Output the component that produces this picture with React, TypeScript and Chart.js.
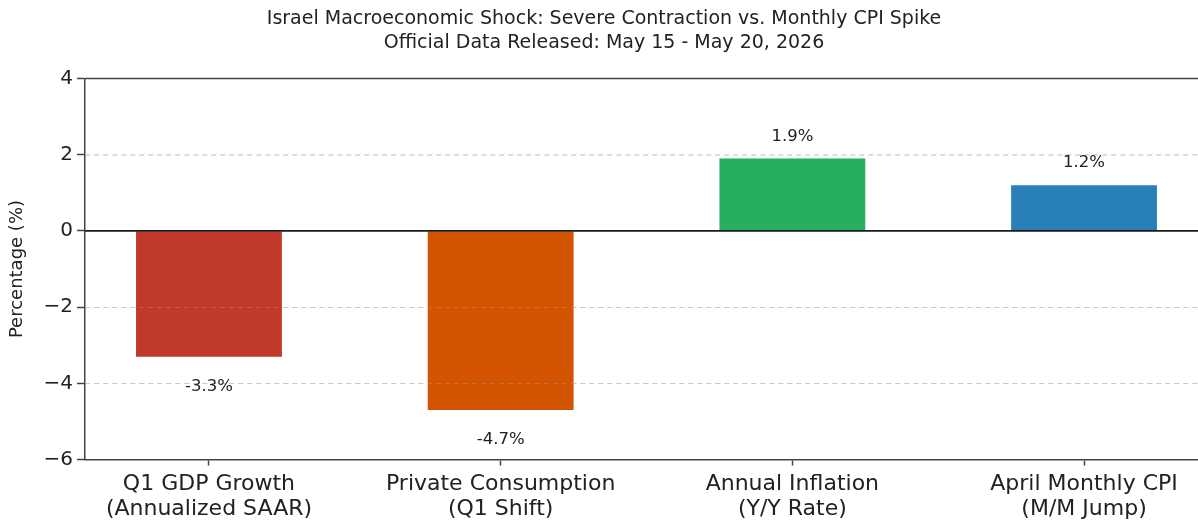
import React, { useEffect, useRef } from "react";
import { Chart, registerables } from "chart.js";

Chart.register(...registerables);

const titleLines = [
  "Israel Macroeconomic Shock: Severe Contraction vs. Monthly CPI Spike",
  "Official Data Released: May 15 - May 20, 2026",
];
const categories = [
  ["Q1 GDP Growth", "(Annualized SAAR)"],
  ["Private Consumption", "(Q1 Shift)"],
  ["Annual Inflation", "(Y/Y Rate)"],
  ["April Monthly CPI", "(M/M Jump)"],
];
const values = [-3.3, -4.7, 1.9, 1.2];
const valueLabels = ["-3.3%", "-4.7%", "1.9%", "1.2%"];
const barColors = ["#c0392b", "#d35400", "#27ae60", "#2980b9"];
const yTicks = [-6, -4, -2, 0, 2, 4];
const yAxisTitle = "Percentage (%)";

const FONT = "'DejaVu Sans'";

const overlayPlugin = {
  id: "overlay",
  afterDatasetsDraw(chart: any) {
    const { ctx, chartArea, scales } = chart;
    const y = scales.y;
    ctx.save();
    // faint grid over bars (matplotlib-like grid drawn above)
    ctx.strokeStyle = "rgba(170,170,170,0.35)";
    ctx.lineWidth = 1;
    ctx.setLineDash([5, 4]);
    yTicks.forEach((t) => {
      if (t === 0 || t === yTicks[0] || t === yTicks[yTicks.length - 1]) return;
      const py = Math.round(y.getPixelForValue(t)) + 0.5;
      ctx.beginPath();
      ctx.moveTo(chartArea.left, py);
      ctx.lineTo(chartArea.right, py);
      ctx.stroke();
    });
    ctx.setLineDash([]);
    // zero line
    const zy = y.getPixelForValue(0);
    ctx.strokeStyle = "#1a1a1a";
    ctx.lineWidth = 1.8;
    ctx.beginPath();
    ctx.moveTo(chartArea.left, zy);
    ctx.lineTo(chartArea.right, zy);
    ctx.stroke();
    // top and right frame
    ctx.strokeStyle = "#444";
    ctx.lineWidth = 1.5;
    ctx.beginPath();
    ctx.moveTo(chartArea.left, chartArea.top);
    ctx.lineTo(chartArea.right, chartArea.top);
    ctx.moveTo(chartArea.right, chartArea.top);
    ctx.lineTo(chartArea.right, chartArea.bottom);
    ctx.stroke();
    // value labels
    const meta = chart.getDatasetMeta(0);
    ctx.fillStyle = "#222";
    ctx.font = `16.5px ${FONT}`;
    ctx.textAlign = "center";
    ctx.textBaseline = "middle";
    meta.data.forEach((bar: any, i: number) => {
      const v = values[i];
      const ty = v >= 0 ? bar.y - 22 : bar.y + 30;
      ctx.fillText(valueLabels[i], bar.x, ty);
    });
    ctx.restore();
  },
};

export default function App() {
  const ref = useRef<HTMLCanvasElement | null>(null);
  useEffect(() => {
    if (!ref.current) return;
    const chart = new Chart(ref.current, {
      type: "bar",
      data: {
        datasets: [
          {
            data: values.map((v, i) => ({ x: i, y: v })),
            backgroundColor: barColors,
            borderWidth: 0,
            barPercentage: 0.5,
            categoryPercentage: 1,
          },
        ],
      },
      options: {
        animation: false,
        responsive: true,
        maintainAspectRatio: false,
        layout: { padding: { left: 0, right: 22, top: 0, bottom: 3 } },
        plugins: {
          legend: { display: false },
          tooltip: { enabled: false },
          title: {
            display: true,
            text: titleLines,
            color: "#222",
            font: { family: FONT, size: 19, weight: "normal", lineHeight: 1.25 },
            padding: { top: 7, bottom: 24 },
          },
        },
        scales: {
          x: {
            type: "linear",
            min: -0.425,
            max: 3.425,
            offset: false,
            afterBuildTicks: (axis: any) => {
              axis.ticks = categories.map((_, i) => ({ value: i }));
            },
            ticks: {
              autoSkip: false,
              maxRotation: 0,
              color: "#222",
              padding: 7,
              font: { family: FONT, size: 22, lineHeight: 1.1 },
              callback: (v: any) => categories[v as number],
            },
            grid: {
              offset: false,
              drawOnChartArea: false,
              drawTicks: true,
              tickLength: 6,
              tickColor: "#444",
              tickWidth: 1.5,
            },
            border: { display: true, color: "#444", width: 1.5 },
          },
          y: {
            min: -6,
            max: 4,
            afterBuildTicks: (axis: any) => {
              axis.ticks = yTicks.map((v) => ({ value: v }));
            },
            afterFit: (scale: any) => {
              scale.width = 85;
            },
            ticks: {
              color: "#222",
              padding: 4,
              font: { family: FONT, size: 20 },
              callback: (v: any) => (v < 0 ? "\u2212" + Math.abs(v) : String(v)),
            },
            grid: {
              drawTicks: true,
              tickLength: 8,
              tickColor: "#444",
              tickWidth: 1.5,
              tickBorderDash: [],
              color: (ctx: any) => {
                const v = ctx.tick ? ctx.tick.value : null;
                if (v === 0 || v === 4 || v === -6) return "rgba(0,0,0,0)";
                return "#d9d9d9";
              },
              lineWidth: 1,
            },
            border: { display: true, color: "#444", width: 1.5, dash: [5, 4] },
            title: {
              display: true,
              text: yAxisTitle,
              color: "#222",
              font: { family: FONT, size: 18 },
              padding: { top: 7, bottom: 0 },
            },
          },
        },
      },
      plugins: [overlayPlugin],
    } as any);
    return () => chart.destroy();
  }, []);

  return (
    <div
      style={{
        position: "fixed",
        left: 0,
        top: 0,
        width: 1198,
        height: 522,
        overflow: "hidden",
        background: "#fff",
      }}
    >
      <div style={{ width: 1230, height: 531, position: "relative" }}>
        <canvas ref={ref} />
      </div>
    </div>
  );
}
